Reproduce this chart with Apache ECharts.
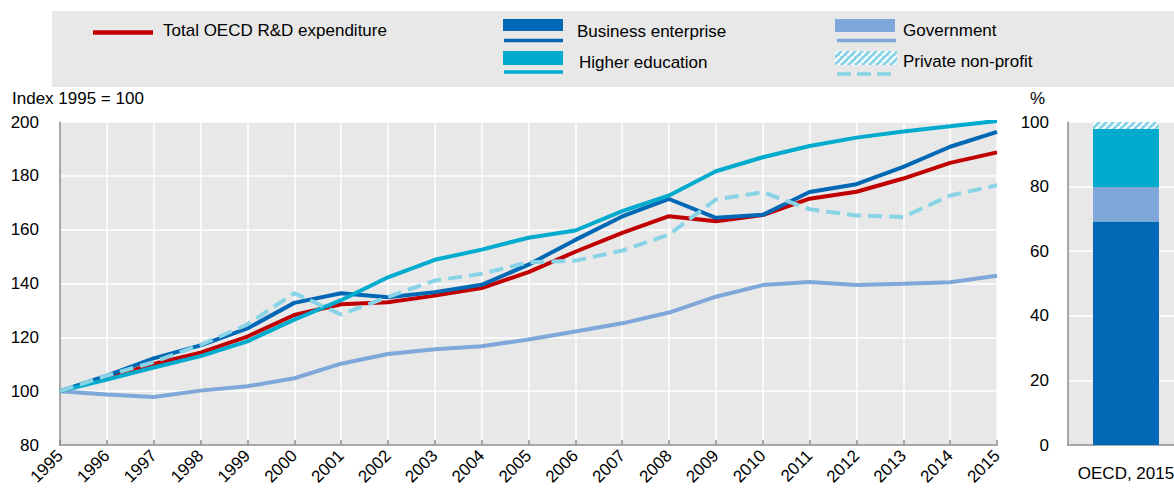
<!DOCTYPE html>
<html>
<head>
<meta charset="utf-8">
<script src="https://cdn.jsdelivr.net/npm/echarts@6/dist/echarts.min.js"></script>
<style>
html,body{margin:0;padding:0;background:#fff;}
#c{width:1174px;height:499px;}
</style>
</head>
<body>
<div id="c"></div>
<script>
const years = ['1995','1996','1997','1998','1999','2000','2001','2002','2003','2004','2005','2006','2007','2008','2009','2010','2011','2012','2013','2014','2015'];
const totalRD   = [100,104.8,110.1,114.3,120.3,128.3,132.3,133.0,135.5,138.3,144.2,151.8,158.8,165.0,163.1,165.4,171.5,174.1,179.0,184.8,188.7];
const business  = [100,105.8,112.2,117.0,123.3,132.8,136.4,134.9,136.8,139.5,147.0,156.2,164.9,171.4,164.4,165.5,174.0,176.9,183.3,190.8,196.3];
const higherEd  = [100,104.3,108.8,113.0,118.5,126.6,133.8,142.3,148.8,152.6,157.0,159.7,166.9,172.7,181.7,186.9,191.1,194.2,196.5,198.4,200.4];
const government= [100,98.8,97.8,100.2,101.8,104.8,110.2,113.8,115.6,116.7,119.2,122.2,125.2,129.2,135.1,139.4,140.6,139.4,139.9,140.5,142.9];
const privateNP = [100,105.8,110.8,117.2,124.8,136.4,128.5,135.0,141.1,143.6,147.9,148.5,152.2,158.2,171.2,173.9,167.6,165.3,164.7,172.7,176.5];

const shareCategory = ['OECD, 2015'];
const shareBusiness = [69.2];
const shareGovernment = [10.7];
const shareHigher = [17.9];
const sharePNP = [2.2];

const yTicksLeft = {min:80, max:200, interval:20};
const yTicksRight = {min:0, max:100, interval:20};

const C = {
  total:'#c00000', business:'#0068b4', higher:'#00abcd', gov:'#7fa7d9', pnp:'#88d4e6',
  bg:'#e8e8e8', axis:'#8c8c8c', text:'#000'
};
const FONT = 'Liberation Sans, Arial, sans-serif';

function hatch(){
  const cv = document.createElement('canvas');
  cv.width = 7; cv.height = 7;
  const g = cv.getContext('2d');
  g.fillStyle = C.pnp; g.fillRect(0,0,7,7);
  g.strokeStyle = '#ffffff'; g.lineWidth = 2.2;
  for (let k=-7;k<=14;k+=7){ g.beginPath(); g.moveTo(k,7); g.lineTo(k+7,0); g.stroke(); }
  return cv;
}
const hatchCanvas = hatch();
const hatchFill = {image: hatchCanvas, repeat: 'repeat'};

const chart = echarts.init(document.getElementById('c'), null, {renderer:'svg'});

function lbl(x,y,t){ return {type:'text', left:x, top:y-10, style:{text:t, fontSize:17, fontFamily:FONT, fill:'#000'}}; }

const graphic = [
  {type:'rect', shape:{x:52,y:11,width:1130,height:76}, style:{fill:C.bg}, z:-1},
  {type:'line', shape:{x1:93,y1:32.5,x2:153,y2:32.5}, style:{stroke:C.total, lineWidth:4.5}},
  lbl(163,32,'Total OECD R&D expenditure'),
  {type:'rect', shape:{x:503,y:19,width:60,height:12}, style:{fill:C.business}},
  {type:'line', shape:{x1:504,y1:40.5,x2:563,y2:40.5}, style:{stroke:C.business, lineWidth:3.5}},
  lbl(577,33,'Business enterprise'),
  {type:'rect', shape:{x:503,y:51,width:60,height:14}, style:{fill:C.higher}},
  {type:'line', shape:{x1:504,y1:72,x2:563,y2:72}, style:{stroke:C.higher, lineWidth:3.5}},
  lbl(579,64,'Higher education'),
  {type:'rect', shape:{x:835,y:19,width:60,height:13}, style:{fill:C.gov}},
  {type:'line', shape:{x1:837,y1:40.5,x2:896,y2:40.5}, style:{stroke:C.gov, lineWidth:3.5}},
  lbl(903,32,'Government'),
  {type:'rect', shape:{x:835,y:51,width:62,height:14}, style:{fill:hatchFill}},
  {type:'line', shape:{x1:837,y1:74,x2:897,y2:74}, style:{stroke:C.pnp, lineWidth:3.5, lineDash:[14,6]}},
  lbl(903,63,'Private non-profit'),
  lbl(12,100,'Index 1995 = 100'),
  lbl(1030,100,'%')
];

const lineBase = {type:'line', xAxisIndex:0, yAxisIndex:0, symbol:'none', smooth:false, animation:false};

chart.setOption({
  animation:false,
  textStyle:{fontFamily:FONT},
  graphic: graphic,
  grid:[
    {left:60, top:122, width:937, height:323, show:true, backgroundColor:C.bg, borderWidth:0, containLabel:false, outerBoundsMode:'none'},
    {left:1068, top:122, width:116, height:323, show:true, backgroundColor:C.bg, borderWidth:0, containLabel:false, outerBoundsMode:'none'}
  ],
  xAxis:[
    {type:'category', gridIndex:0, data:years, boundaryGap:false,
     axisLine:{show:true, lineStyle:{color:C.axis, width:1.5}},
     axisTick:{show:true, inside:true, length:5, interval:0, lineStyle:{color:C.axis, width:1.5}},
     axisLabel:{interval:0, rotate:45, fontSize:17, color:'#000', margin:8, fontFamily:FONT},
     splitLine:{show:true, interval:0, lineStyle:{color:'#fff', width:1.5}}},
    {type:'category', gridIndex:1, data:shareCategory,
     axisLine:{show:true, lineStyle:{color:C.axis, width:1.5}},
     axisTick:{show:false},
     axisLabel:{fontSize:17, color:'#000', margin:20, fontFamily:FONT, hideOverlap:false},
     splitLine:{show:false}}
  ],
  yAxis:[
    {type:'value', gridIndex:0, min:yTicksLeft.min, max:yTicksLeft.max, interval:yTicksLeft.interval,
     axisLine:{show:true, lineStyle:{color:C.axis, width:1.5}},
     axisTick:{show:false},
     axisLabel:{fontSize:17, color:'#000', margin:21, fontFamily:FONT},
     splitLine:{show:true, lineStyle:{color:'#fff', width:1.5}}},
    {type:'value', gridIndex:1, min:yTicksRight.min, max:yTicksRight.max, interval:yTicksRight.interval,
     axisLine:{show:true, lineStyle:{color:C.axis, width:1.5}},
     axisTick:{show:false},
     axisLabel:{fontSize:17, color:'#000', margin:19, fontFamily:FONT},
     splitLine:{show:true, lineStyle:{color:'#fff', width:1.5}}}
  ],
  series:[
    Object.assign({}, lineBase, {name:'Government', data:government, lineStyle:{color:C.gov, width:4}, z:2}),
    Object.assign({}, lineBase, {name:'Total OECD R&D expenditure', data:totalRD, lineStyle:{color:C.total, width:4}, z:3}),
    Object.assign({}, lineBase, {name:'Business enterprise', data:business, lineStyle:{color:C.business, width:4}, z:4}),
    Object.assign({}, lineBase, {name:'Higher education', data:higherEd, lineStyle:{color:C.higher, width:4}, z:5}),
    Object.assign({}, lineBase, {name:'Private non-profit', data:privateNP, lineStyle:{color:C.pnp, width:4, type:[14,7]}, z:6}),
    {type:'bar', name:'Business enterprise (share)', xAxisIndex:1, yAxisIndex:1, stack:'s', data:shareBusiness, barWidth:66, itemStyle:{color:C.business}},
    {type:'bar', name:'Government (share)', xAxisIndex:1, yAxisIndex:1, stack:'s', data:shareGovernment, barWidth:66, itemStyle:{color:C.gov}},
    {type:'bar', name:'Higher education (share)', xAxisIndex:1, yAxisIndex:1, stack:'s', data:shareHigher, barWidth:66, itemStyle:{color:C.higher}},
    {type:'bar', name:'Private non-profit (share)', xAxisIndex:1, yAxisIndex:1, stack:'s', data:sharePNP, barWidth:66, itemStyle:{color:hatchFill}}
  ]
});
</script>
</body>
</html>
